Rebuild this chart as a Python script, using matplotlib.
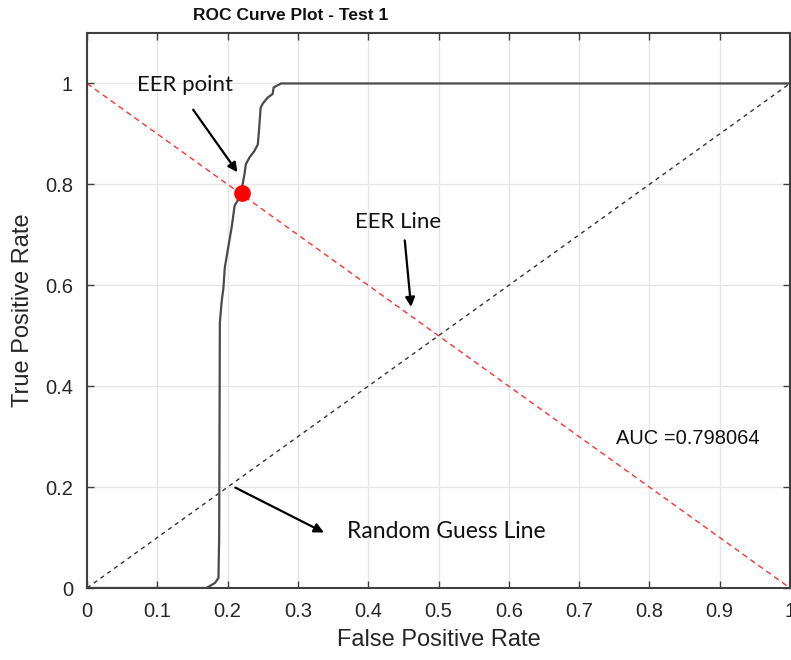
import matplotlib
matplotlib.use("Agg")
import matplotlib.pyplot as plt
import numpy as np

# ROC curve
fpr = [0.0, 0.170, 0.182, 0.187, 0.188, 0.189, 0.1915, 0.194, 0.196, 0.201, 0.206,
       0.210, 0.214, 0.221, 0.221, 0.224, 0.226, 0.231, 0.238, 0.243, 0.245, 0.247,
       0.250, 0.257, 0.264, 0.2655, 0.276, 1.0]
tpr = [0.0, 0.0, 0.01, 0.02, 0.10, 0.526, 0.567, 0.594, 0.635, 0.676, 0.717,
       0.758, 0.767, 0.782, 0.797, 0.82, 0.84, 0.853, 0.866, 0.879, 0.913, 0.952,
       0.96, 0.972, 0.979, 0.992, 1.0, 1.0]
eer_x, eer_y = 0.221, 0.782
eer_line_x = [0, 1]
eer_line_y = [1, 0]
rand_x = [0, 1]
rand_y = [0, 1]
auc_label = "AUC =0.798064"
xticks = [0, 0.1, 0.2, 0.3, 0.4, 0.5, 0.6, 0.7, 0.8, 0.9, 1]
xticklabels = ["0", "0.1", "0.2", "0.3", "0.4", "0.5", "0.6", "0.7", "0.8", "0.9", "1"]
yticks = [0, 0.2, 0.4, 0.6, 0.8, 1]
yticklabels = ["0", "0.2", "0.4", "0.6", "0.8", "1"]

W, H = 791, 660
fig = plt.figure(figsize=(W / 100, H / 100), dpi=100)
ax = fig.add_axes([87 / W, 1 - 588 / H, (790 - 87) / W, (588 - 33) / H])

sans = ["Liberation Sans", "DejaVu Sans"]
cal = ["Lato", "DejaVu Sans"]
axcol = "#262626"

ax.plot(eer_line_x, eer_line_y, color="#ff3030", lw=1.0, dashes=(4, 3))
ax.plot(rand_x, rand_y, color="#333333", lw=1.0, dashes=(3, 3))
ax.plot(fpr, tpr, color="#4a4a4a", lw=1.6, solid_joinstyle="miter")
ax.plot([eer_x], [eer_y], "o", color="#ff0000", markersize=11, zorder=5)

ax.set_xlim(0, 1)
ax.set_ylim(0, 1.1)
ax.set_xticks(xticks)
ax.set_xticklabels(xticklabels, fontfamily=sans, fontsize=14.5, color=axcol)
ax.set_yticks(yticks)
ax.set_yticklabels(yticklabels, fontfamily=sans, fontsize=14.5, color=axcol)
ax.tick_params(direction="in", length=5, width=1.0, top=True, right=True,
               color="#404040", pad=10)
ax.grid(True, color="#e6e6e6", lw=1.0)
ax.set_axisbelow(True)
for s in ax.spines.values():
    s.set_color("#404040")
    s.set_linewidth(1.5)

ax.set_xlabel("False Positive Rate", fontfamily=sans, fontsize=17, color=axcol, labelpad=6)
ax.set_ylabel("True Positive Rate", fontfamily=sans, fontsize=17, color=axcol, labelpad=8)

fig.text(291 / W, 1 - 16 / H, "ROC Curve Plot - Test 1", ha="center", va="center",
         fontfamily=sans, fontweight="bold", fontsize=12.5, color="#111111")

arrow = dict(arrowstyle="-|>", color="black", lw=1.6, mutation_scale=14, shrinkA=0, shrinkB=0)
ax.text(0.14, 0.996, "EER point", fontfamily=cal, fontsize=16, ha="center", va="center", color="#111111")
ax.annotate("", xy=(0.214, 0.824), xytext=(0.151, 0.948), arrowprops=arrow)

ax.text(0.443, 0.725, "EER Line", fontfamily=cal, fontsize=16, ha="center", va="center", color="#111111")
ax.annotate("", xy=(0.461, 0.557), xytext=(0.452, 0.689), arrowprops=arrow)

ax.text(0.370, 0.111, "Random Guess Line", fontfamily=cal, fontsize=16.5, ha="left", va="center", color="#111111")
ax.annotate("", xy=(0.337, 0.110), xytext=(0.211, 0.199), arrowprops=arrow)

ax.text(0.752, 0.296, auc_label, fontfamily=sans,
        fontsize=14.5, ha="left", va="center", color="#111111")

fig.savefig("out.png", dpi=100)
